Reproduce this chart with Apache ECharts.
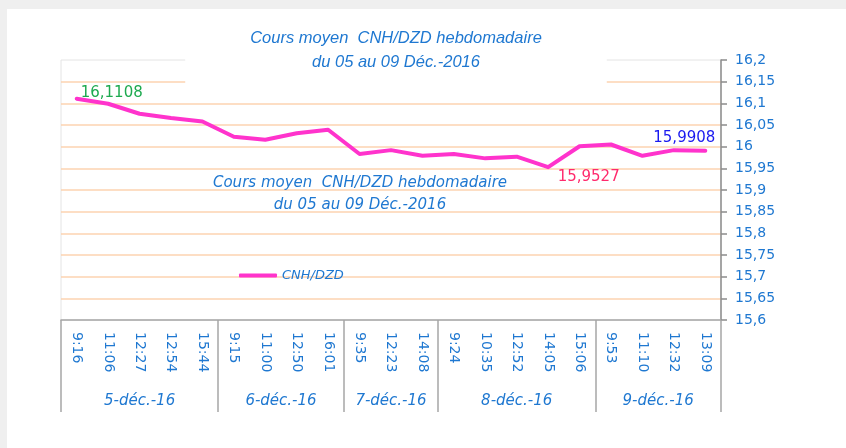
<!DOCTYPE html>
<html>
<head>
<meta charset="utf-8">
<script src="https://cdn.jsdelivr.net/npm/echarts@6/dist/echarts.min.js"></script>
<style>
  html, body { margin: 0; padding: 0; background: #efefef; }
  #chart { position: absolute; left: 7px; top: 9px; width: 839px; height: 439px; background: #fff; }
</style>
</head>
<body>
<div id="chart"></div>
<script>
// heures de cotation (axe principal)
const times = ['9:16', '11:06', '12:27', '12:54', '15:44',
  '9:15', '11:00', '12:50', '16:01',
  '9:35', '12:23', '14:08',
  '9:24', '10:35', '12:52', '14:05', '15:06',
  '9:53', '11:10', '12:32', '13:09'];
// jours (axe secondaire) et nombre de cotations par jour
const days = ['5-déc.-16', '6-déc.-16', '7-déc.-16', '8-déc.-16', '9-déc.-16'];
const daySizes = [5, 4, 3, 5, 4];
// cours moyen CNH/DZD
const rates = [16.1108, 16.099, 16.076, 16.066, 16.058,
  16.023, 16.016, 16.031, 16.039,
  15.983, 15.992, 15.979,
  15.983, 15.973, 15.977, 15.9527, 16.001,
  16.005, 15.979, 15.992, 15.9908];
const yTicks = { min: 15.6, max: 16.2, step: 0.05 };

const blue = '#1f78d1';
const fmt = v => String(+v.toFixed(4)).replace('.', ',');

// axe des jours : demi-cases, bornes et centres
function buildDayAxis() {
  const slots = [];
  const bounds = [0];
  let pos = 0;
  for (let i = 0; i < days.length; i++) {
    pos += daySizes[i];
    bounds.push(pos * 2);
  }
  const total = pos * 2;
  for (let k = 0; k <= total; k++) slots.push('');
  const centers = [];
  for (let i = 0; i < days.length; i++) {
    const c = (bounds[i] + bounds[i + 1]) / 2;
    slots[c] = days[i];
    centers.push(c);
  }
  return { slots, bounds, centers };
}
const dayAxis = buildDayAxis();

const labelled = {
  0: { color: '#1eaa50', position: 'top', offset: [35, 7] },
  15: { color: '#ff2a6d', position: 'right', offset: [4, 10] },
  20: { color: '#1a1af0', position: 'top', offset: [-21, 0] }
};
const seriesData = rates.map((v, i) => {
  const l = labelled[i];
  if (!l) return v;
  return {
    value: v,
    label: {
      show: true, position: l.position, offset: l.offset,
      color: l.color, fontSize: 15, fontFamily: 'DejaVu Sans',
      formatter: p => fmt(p.value)
    }
  };
});

const chart = echarts.init(document.getElementById('chart'));
chart.setOption({
  animation: false,
  title: [{
    text: 'Cours moyen  CNH/DZD hebdomadaire\ndu 05 au 09 Déc.-2016',
    left: 324, top: 9, textAlign: 'center',
    backgroundColor: '#fff',
    padding: [8, 65, 12, 65],
    textStyle: {
      color: blue, fontSize: 16.5, fontStyle: 'italic', fontWeight: 'normal',
      fontFamily: 'Liberation Sans', lineHeight: 24
    }
  }, {
    text: 'Cours moyen  CNH/DZD hebdomadaire\ndu 05 au 09 Déc.-2016',
    left: 348, top: 158, textAlign: 'center',
    textStyle: {
      color: blue, fontSize: 15, fontStyle: 'italic', fontWeight: 'normal',
      fontFamily: 'DejaVu Sans', lineHeight: 22
    }
  }],
  legend: {
    left: 227, top: 255,
    icon: 'roundRect', itemWidth: 38, itemHeight: 4, itemGap: 4,
    textStyle: { color: blue, fontSize: 13, fontStyle: 'italic', fontFamily: 'DejaVu Sans' },
    data: ['CNH/DZD']
  },
  grid: {
    left: 54, right: 125, top: 51, bottom: 128,
    show: true, borderColor: '#e4e4e4', borderWidth: 1
  },
  xAxis: [{
    type: 'category',
    data: times,
    boundaryGap: true,
    axisLine: { lineStyle: { color: '#a6a6a6', width: 1.5 } },
    axisTick: { interval: 0, length: 58, lineStyle: { color: '#a6a6a6', width: 1.5 } },
    axisLabel: {
      interval: 0, rotate: -90, margin: 12,
      color: blue, fontSize: 14, fontFamily: 'DejaVu Sans'
    }
  }, {
    type: 'category',
    position: 'bottom',
    data: dayAxis.slots,
    boundaryGap: false,
    axisLine: { show: false },
    axisTick: {
      interval: i => dayAxis.bounds.indexOf(i) >= 0,
      length: 92, lineStyle: { color: '#a6a6a6', width: 1.5 }
    },
    axisLabel: {
      interval: i => dayAxis.centers.indexOf(i) >= 0,
      margin: 74, color: blue, fontSize: 15, fontStyle: 'italic', fontFamily: 'DejaVu Sans'
    }
  }],
  yAxis: {
    type: 'value',
    position: 'right',
    min: yTicks.min, max: yTicks.max, interval: yTicks.step,
    axisLine: { show: true, lineStyle: { color: '#8c8c8c', width: 1.5 } },
    axisTick: { show: true, length: 6, lineStyle: { color: '#8c8c8c', width: 1.5 } },
    axisLabel: {
      margin: 14, color: blue, fontSize: 14, fontFamily: 'DejaVu Sans',
      formatter: v => String(+v.toFixed(2)).replace('.', ',')
    },
    splitLine: {
      show: true, showMaxLine: false, showMinLine: false,
      lineStyle: { color: '#fcd3b0', width: 1.5 }
    }
  },
  series: [{
    name: 'CNH/DZD',
    type: 'line',
    data: seriesData,
    symbol: 'circle',
    symbolSize: 1,
    showSymbol: true,
    itemStyle: { color: '#ff33cc' },
    lineStyle: { color: '#ff33cc', width: 4, cap: 'round', join: 'round' },
    z: 3
  }]
});
</script>
</body>
</html>
